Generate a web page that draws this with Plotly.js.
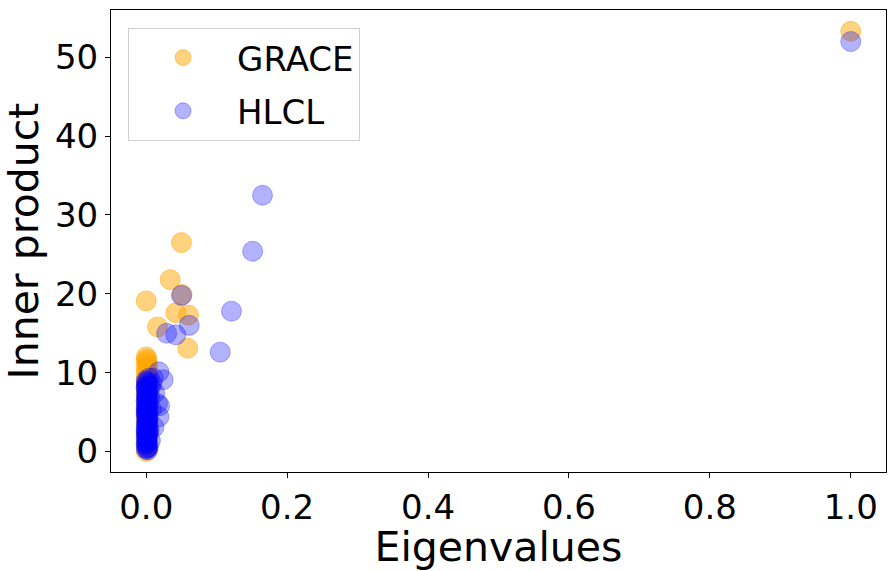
<!DOCTYPE html>
<html>
<head>
<meta charset="utf-8">
<script src="https://cdn.plot.ly/plotly-3.0.1.min.js"></script>
<style>html,body{margin:0;padding:0;background:#fff;}#chart{width:894px;height:571px;}</style>
</head>
<body>
<div id="chart"></div>
<script>
// GRACE series (eigenvalue, inner product)
var graceX = [1.000, 0.050, 0.034, 0.000, 0.051, 0.042, 0.060, 0.016, 0.059,
  0.000, 0.001, 0.000, 0.002, 0.000, 0.001, 0.000, 0.002, 0.000, 0.001,
  0.000, 0.001, 0.000, 0.002, 0.000, 0.001, 0.000, 0.002, 0.000, 0.001,
  0.000, 0.001, 0.000, 0.002, 0.000, 0.001, 0.000];
var graceY = [53.3, 26.5, 21.8, 19.1, 19.9, 17.6, 17.3, 15.8, 13.1,
  12.0, 11.7, 11.4, 11.0, 10.6, 10.2, 9.8, 9.4, 9.0, 8.6,
  8.2, 7.8, 7.3, 6.8, 6.3, 5.8, 5.3, 4.8, 4.3, 3.8,
  3.3, 2.8, 2.3, 1.8, 1.2, 0.6, 0.0];

// HLCL series (eigenvalue, inner product)
var hlclX = [1.000, 0.165, 0.151, 0.121, 0.105, 0.061, 0.050, 0.042, 0.029,
  0.018, 0.024, 0.010, 0.004, 0.019, 0.018, 0.016, 0.011, 0.008, 0.012,
  0.000, 0.001, 0.002, 0.000, 0.003, 0.001, 0.000, 0.002, 0.001, 0.000,
  0.003, 0.001, 0.000, 0.002, 0.001, 0.000, 0.003, 0.001, 0.000, 0.002,
  0.001, 0.000, 0.003, 0.001, 0.000, 0.002, 0.001, 0.000, 0.003, 0.001,
  0.000, 0.002, 0.001, 0.000, 0.003, 0.001, 0.000, 0.002, 0.001, 0.000,
  0.001, 0.000, 0.002, 0.001, 0.000, 0.002, 0.001, 0.000, 0.002, 0.001,
  0.000, 0.002, 0.001, 0.000, 0.002, 0.001, 0.000, 0.002, 0.001, 0.000,
  0.006, 0.005, 0.007, 0.004, 0.006];
var hlclY = [52.0, 32.5, 25.4, 17.8, 12.6, 16.0, 19.8, 14.8, 15.0,
  10.1, 9.1, 9.3, 9.3, 5.8, 4.4, 6.1, 3.1, 8.6, 7.4,
  9.0, 8.7, 8.4, 8.1, 7.8, 7.5, 7.2, 6.9, 6.6, 6.3,
  6.0, 5.7, 5.4, 5.1, 4.8, 4.5, 4.2, 3.9, 3.6, 3.3,
  3.0, 2.7, 2.4, 2.1, 1.8, 1.5, 1.2, 0.9, 0.6, 0.4,
  0.3, 0.2, 7.0, 5.0, 3.0, 1.0, 2.0, 4.0, 6.0, 8.0,
  8.8, 8.3, 7.7, 7.1, 6.5, 5.9, 5.3, 4.7, 4.1, 3.5,
  2.9, 2.3, 1.7, 1.1, 0.5, 6.8, 5.6, 4.9, 3.7, 2.5,
  8.2, 6.9, 5.4, 2.7, 1.4];

var xTicks = [0.0, 0.2, 0.4, 0.6, 0.8, 1.0];
var yTicks = [0, 10, 20, 30, 40, 50];

var FONT = "DejaVu Sans, Liberation Sans, sans-serif";

var traces = [
  {
    type: "scatter", mode: "markers", name: "GRACE", legendgroup: "g1",
    x: graceX, y: graceY,
    marker: {size: 20, color: "rgba(255,165,0,0.5)", line: {width: 1, color: "rgba(255,165,0,0.5)"}}
  },
  {
    type: "scatter", mode: "markers", name: "HLCL", legendgroup: "g2",
    x: hlclX, y: hlclY,
    marker: {size: 20, color: "rgba(0,0,255,0.3)", line: {width: 1, color: "rgba(0,0,255,0.3)"}}
  }
];

var axisCommon = {
  showgrid: false, zeroline: false,
  showline: true, linecolor: "#000", linewidth: 1, mirror: true,
  ticks: "outside", ticklen: 5, tickwidth: 1, tickcolor: "#000",
  tickfont: {family: FONT, size: 34, color: "#000"}
};

var layout = {
  width: 894, height: 571,
  margin: {l: 111, r: 8, t: 10, b: 99},
  paper_bgcolor: "#fff", plot_bgcolor: "#fff",
  font: {family: FONT, color: "#000"},
  xaxis: Object.assign({}, axisCommon, {
    range: [-0.05, 1.05],
    tickvals: xTicks, ticktext: xTicks.map(function(v){return v.toFixed(1);}),
    title: {text: "Eigenvalues", font: {family: FONT, size: 41, color: "#000"}, standoff: 6}
  }),
  yaxis: Object.assign({}, axisCommon, {
    range: [-2.6, 56.0],
    tickvals: yTicks, ticktext: yTicks.map(String),
    title: {text: "Inner product", font: {family: FONT, size: 41, color: "#000"}, standoff: 8}
  }),
  showlegend: true,
  legend: {
    x: 0.022, y: 0.961, xanchor: "left", yanchor: "top",
    bgcolor: "rgba(255,255,255,0.8)", bordercolor: "#d0d0d0", borderwidth: 1,
    font: {family: FONT, size: 34, color: "#000"},
    itemsizing: "trace", itemwidth: 98, tracegroupgap: 6
  }
};

Plotly.newPlot("chart", traces, layout, {displayModeBar: false, staticPlot: true});
</script>
</body>
</html>
